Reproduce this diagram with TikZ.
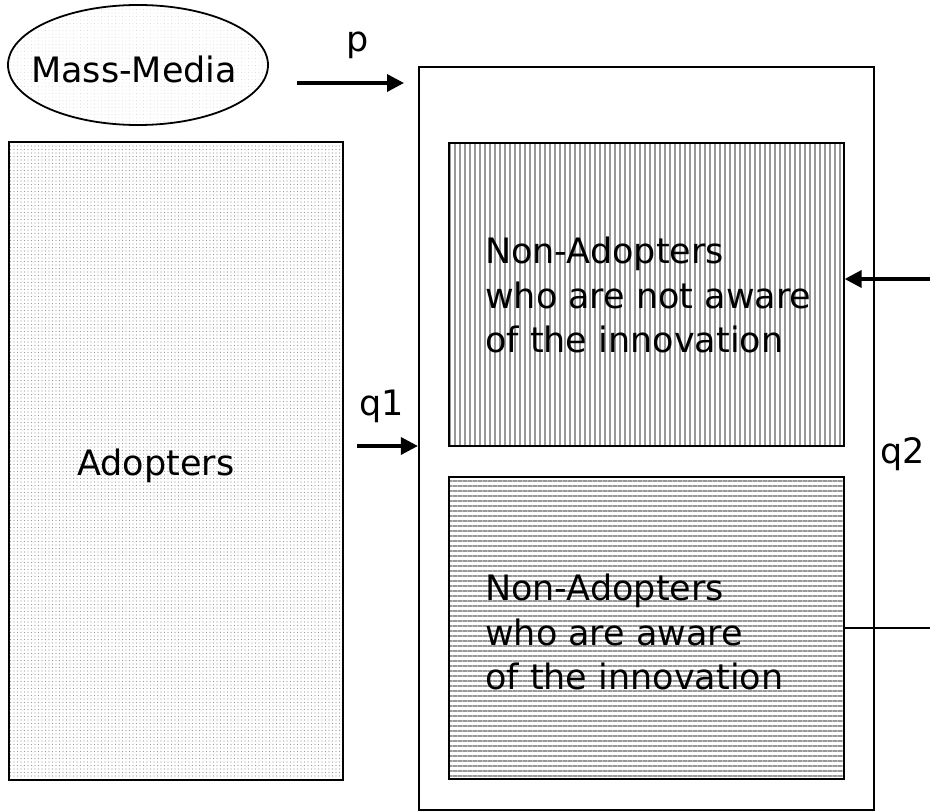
\documentclass[tikz,border=0pt]{standalone}
\usepackage{fontspec}
\setmainfont{DejaVu Sans}
\usetikzlibrary{shapes.geometric,arrows.meta,patterns.meta}
\begin{document}
\begin{tikzpicture}[x=1pt,y=-1pt,
  box/.style={draw=black,line width=2.2pt,rectangle,inner sep=0pt},
  txt/.style={font=\fontsize{35}{44.5}\selectfont,inner sep=0pt,align=left},
  arr/.style={line width=3.5pt,-{Triangle[length=17pt,width=17pt]}},
  lin/.style={line width=2.2pt}]
\useasboundingbox (0,0) rectangle (930,811);
% Mass media
\node[ellipse,draw,line width=1.8pt,minimum width=260pt,minimum height=120pt,
  pattern={Dots[distance=3.5pt,radius=0.45pt]},pattern color=black!22] (mm) at (138,65) {};
\node[txt,anchor=base west] (mmt) at (31,82) {Mass-Media};
% Adopters
\node[box,minimum width=334pt,minimum height=638pt,
  pattern={Dots[distance=3.5pt,radius=0.6pt]},pattern color=black!40] (ad) at (176,461) {};
\node[txt,anchor=base west] (adt) at (77,475) {Adopters};
% outer box
\node[box,minimum width=455pt,minimum height=743pt] (out) at (646.5,438.5) {};
% upper box
\node[box,minimum width=395pt,minimum height=303pt,
  pattern={Lines[angle=90,distance=5pt,line width=1.3pt]},pattern color=black!40] (up) at (646.5,294.5) {};
\node[txt,anchor=north west] (upt) at (485,237) {Non-Adopters\\who are not aware\\of the innovation};
% lower box
\node[box,minimum width=395pt,minimum height=302pt,
  pattern={Lines[angle=0,distance=5pt,line width=1.3pt]},pattern color=black!40] (lo) at (646.5,628) {};
\node[txt,anchor=north west] (lot) at (485,574) {Non-Adopters\\who are aware\\of the innovation};
% arrows
\coordinate (ps) at (297,83);
\coordinate (pe) at (404,83);
\draw[arr] (ps) -- (pe);
\node[txt,anchor=base west] (pl) at (346,51) {p};
\coordinate (q1s) at (357,446);
\draw[arr] (q1s) -- (q1s -| out.west);
\node[txt,anchor=base west] (q1l) at (359,415) {q1};
\coordinate (q2s) at (931,279);
\draw[arr] (q2s) -- (q2s -| up.east);
\coordinate (q2e) at (931,628);
\draw[lin] (lo.east) -- (q2e);
\node[txt,anchor=base west] (q2l) at (880,463) {q2};
\end{tikzpicture}
\end{document}
